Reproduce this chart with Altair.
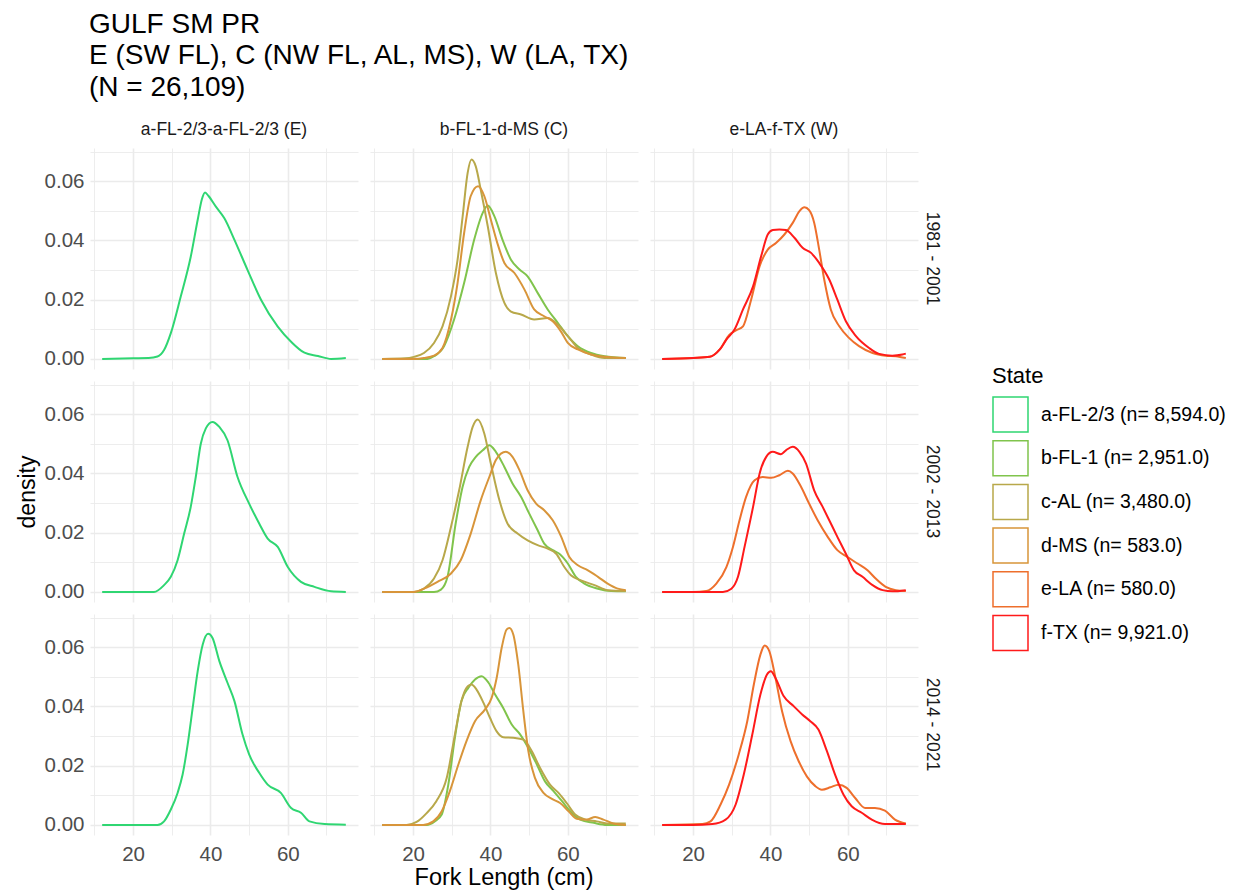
import altair as alt
import pandas as pd

PERIODS = ["1981 - 2001", "2002 - 2013", "2014 - 2021"]
REGIONS = ["a-FL-2/3-a-FL-2/3 (E)", "b-FL-1-d-MS (C)", "e-LA-f-TX (W)"]
STATES = ["a-FL-2/3 (n= 8,594.0)", "b-FL-1 (n= 2,951.0)", "c-AL (n= 3,480.0)",
          "d-MS (n= 583.0)", "e-LA (n= 580.0)", "f-TX (n= 9,921.0)"]
COLORS = ["#2fd672", "#80c44c", "#b8a84a", "#d8953a", "#ee6f2c", "#ff1a1a"]

# ---- 1981 - 2001 ----
A1_X = [12, 20, 24, 26.3, 28, 29.75, 32.3, 34.9, 36.7, 37.8, 38.6, 39.5, 41.4, 43.6, 46.2, 49.6, 53.1, 57.4, 60.85, 64.3, 67.8, 71.2, 75]
A1_Y = [0.0, 0.0002, 0.0003, 0.0008, 0.003, 0.0087, 0.021, 0.0345, 0.047, 0.054, 0.0562, 0.055, 0.0514, 0.0475, 0.0402, 0.030, 0.0199, 0.0109, 0.0058, 0.0021, 0.001, 0.0, 0.0003]
B1_X = [12, 20, 23.7, 25.4, 28, 30.6, 33.2, 35.8, 38, 39.3, 41, 43.1, 45.3, 47.5, 49.6, 52.2, 54.8, 57.4, 60, 62.6, 66, 69.5, 75]
B1_Y = [0, 0, 0, 0.0009, 0.0043, 0.0133, 0.0257, 0.0403, 0.0493, 0.0518, 0.0482, 0.0403, 0.0335, 0.0302, 0.0279, 0.0223, 0.0167, 0.0122, 0.0077, 0.0043, 0.002, 0.0009, 0.0003]
C1_X = [12, 18, 20.2, 22.8, 25.4, 27.6, 29.8, 31.5, 32.8, 34.1, 35.1, 36.2, 37.5, 39.3, 41.4, 43.6, 45.3, 47.9, 51.3, 54.8, 57.4, 60, 62.6, 66, 69.5, 75]
C1_Y = [0, 0.0002, 0.0007, 0.002, 0.0054, 0.011, 0.0212, 0.0335, 0.048, 0.0628, 0.0673, 0.065, 0.057, 0.0448, 0.029, 0.0189, 0.016, 0.015, 0.0133, 0.0138, 0.0116, 0.0077, 0.0037, 0.0015, 0.0003, 0.0003]
D1_X = [12, 20.2, 22.8, 25.4, 27.6, 29.8, 31.5, 33.2, 34.9, 36.8, 38.4, 40.1, 41.8, 43.6, 46.2, 48.8, 51.3, 53.9, 56.1, 58.2, 60, 62.6, 66, 69.5, 75]
D1_Y = [0, 0, 0.0003, 0.0011, 0.0037, 0.0133, 0.0257, 0.0426, 0.055, 0.0583, 0.055, 0.047, 0.039, 0.0324, 0.029, 0.0234, 0.0167, 0.0144, 0.0127, 0.0093, 0.0054, 0.0032, 0.0015, 0.0007, 0.0003]
E1_X = [12, 20, 24.3, 26.9, 29.4, 31.2, 32.9, 35, 37.2, 39.3, 41.5, 43.6, 45.8, 47.5, 48.8, 50, 51.3, 52.6, 53.9, 55.6, 57.8, 60.3, 62.9, 66.4, 69.8, 72.4, 75]
E1_Y = [0, 0.0003, 0.0007, 0.0032, 0.0082, 0.0097, 0.011, 0.02, 0.0313, 0.0369, 0.0392, 0.042, 0.046, 0.0499, 0.0512, 0.0502, 0.046, 0.0369, 0.0268, 0.0167, 0.011, 0.0071, 0.0043, 0.002, 0.0011, 0.0009, 0.0003]
F1_X = [12, 20, 24.3, 26.9, 28.6, 30.7, 32.9, 35.5, 37.6, 39.3, 40.6, 42.3, 44, 46.2, 48.3, 50.5, 52.6, 55.2, 57.3, 59.5, 62.1, 65.5, 68.1, 71.5, 74.1, 75]
F1_Y = [0, 0.0003, 0.0007, 0.0032, 0.0065, 0.0099, 0.0167, 0.0245, 0.0347, 0.042, 0.0435, 0.0437, 0.0435, 0.0409, 0.0375, 0.0358, 0.0324, 0.0268, 0.02, 0.0127, 0.0077, 0.0037, 0.0017, 0.0011, 0.0015, 0.0018]

# ---- 2002 - 2013 ----
A2_X = [12, 25.4, 28, 29.75, 31.5, 33.2, 34.9, 36.2, 37.5, 38.8, 40.5, 42.3, 44.4, 47, 50, 52.6, 54.8, 57.4, 60, 63.4, 66.9, 71.2, 75]
A2_Y = [0, 0, 0.0023, 0.0051, 0.0107, 0.0197, 0.0287, 0.0388, 0.05, 0.0552, 0.0574, 0.0557, 0.0512, 0.0388, 0.0298, 0.0231, 0.018, 0.0152, 0.0084, 0.0034, 0.0017, 0.0002, 0]
B2_X = [12, 25.4, 27.2, 28.9, 31, 32.8, 34.5, 36.2, 38, 39.7, 41.4, 43.6, 45.7, 47.9, 50, 52.2, 53.9, 56.1, 57.8, 60, 62.1, 64.3, 67.8, 71.2, 75]
B2_Y = [0, 0, 0.0008, 0.0051, 0.0231, 0.0355, 0.0422, 0.0456, 0.0478, 0.0495, 0.0473, 0.0422, 0.0366, 0.0321, 0.0265, 0.0208, 0.0163, 0.0141, 0.0129, 0.0096, 0.0051, 0.0028, 0.0011, 0.0003, 0.0002]
C2_X = [12, 20.2, 22.8, 25.4, 27.6, 29.8, 31.9, 34.1, 35.4, 36.7, 38.4, 40.1, 42.3, 44.4, 47, 49.6, 52.2, 54.8, 57, 59.1, 60.8, 63.4, 66.9, 70.3, 75]
C2_Y = [0, 0, 0.0011, 0.0045, 0.0107, 0.022, 0.0343, 0.049, 0.0557, 0.0582, 0.0535, 0.0433, 0.031, 0.0231, 0.0197, 0.0174, 0.0158, 0.0146, 0.0129, 0.0084, 0.0056, 0.0039, 0.0023, 0.0006, 0.0003]
D2_X = [12, 20.2, 22.8, 26.3, 29.8, 32.3, 34.9, 37.5, 39.7, 41.4, 42.7, 44, 45.7, 47.5, 49.6, 51.8, 53.9, 56.1, 58.3, 60.4, 62.6, 65.2, 67.8, 70.3, 72.9, 75]
D2_Y = [0, 0, 0.0011, 0.0034, 0.0062, 0.0107, 0.0197, 0.031, 0.0388, 0.0445, 0.0467, 0.0473, 0.0456, 0.0411, 0.0343, 0.0298, 0.0276, 0.0242, 0.0186, 0.0118, 0.009, 0.0073, 0.0051, 0.0028, 0.0011, 0.0006]
E2_X = [12, 20, 23.4, 26, 28.6, 30.3, 32, 33.7, 35.9, 38, 40.2, 42.3, 44.5, 45.75, 47.9, 50, 52.2, 54.8, 57.3, 59.9, 62.5, 65.1, 67.2, 69.8, 72.4, 75]
E2_Y = [0, 0, 0.0003, 0.0028, 0.0084, 0.0152, 0.0242, 0.0321, 0.0377, 0.0388, 0.0385, 0.0394, 0.0409, 0.04, 0.0355, 0.0298, 0.0242, 0.0186, 0.0141, 0.0118, 0.0096, 0.0073, 0.0045, 0.0017, 0.0006, 0.0003]
F2_X = [12, 27.7, 29.9, 31.6, 33.3, 35.5, 37.2, 38.9, 40.6, 42.7, 44, 45.75, 47.5, 49.2, 51.3, 53.5, 55.2, 57.3, 59.5, 61.6, 63.8, 66.4, 69, 71.5, 75]
F2_Y = [0, 0, 0.0011, 0.0051, 0.0152, 0.0287, 0.04, 0.0456, 0.0473, 0.0465, 0.0478, 0.049, 0.0473, 0.0433, 0.0343, 0.0287, 0.0242, 0.0186, 0.0129, 0.0073, 0.0051, 0.0023, 0.0006, 0.0002, 0.0006]

# ---- 2014 - 2021 ----
A3_X = [12, 26.3, 28, 29.75, 31.5, 32.8, 34.1, 35.4, 36.7, 38, 39.4, 40.5, 42.3, 44.4, 46.2, 48.3, 50, 52.6, 54.8, 58.2, 60.85, 63.4, 65.6, 69.5, 75]
A3_Y = [0, 0, 0.0012, 0.0052, 0.0108, 0.017, 0.0271, 0.0395, 0.0519, 0.0609, 0.0645, 0.0632, 0.0553, 0.048, 0.0418, 0.0305, 0.0238, 0.0176, 0.0136, 0.0108, 0.0057, 0.0041, 0.0012, 0.0003, 0.0001]
B3_X = [12, 23.5, 25.6, 27.4, 29.1, 30.8, 32.5, 34.3, 36, 37.7, 39.5, 41.2, 43.3, 45.5, 47.7, 49.8, 52, 54.1, 56.3, 58.5, 60.6, 63.2, 66.7, 70.1, 75]
B3_Y = [0, 0, 0.0012, 0.0035, 0.0136, 0.0294, 0.0418, 0.0463, 0.0491, 0.0502, 0.048, 0.044, 0.0395, 0.0339, 0.0305, 0.026, 0.0204, 0.0147, 0.0114, 0.008, 0.0046, 0.0018, 0.0007, 0, 0]
C3_X = [12, 18.3, 20.9, 23.5, 26, 28.7, 30.8, 32.5, 33.8, 35.1, 36.4, 38.2, 39.9, 41.6, 43.3, 45.9, 48.5, 50.7, 52.8, 55.4, 57.6, 59.7, 61.9, 64.5, 67.5, 70.1, 75]
C3_Y = [0, 0, 0.001, 0.004, 0.008, 0.0159, 0.0305, 0.0418, 0.0463, 0.0474, 0.0457, 0.0412, 0.0361, 0.0316, 0.0296, 0.0294, 0.0288, 0.0249, 0.0193, 0.0136, 0.0108, 0.0074, 0.0035, 0.0018, 0.0012, 0.0005, 0.0005]
D3_X = [12, 22.6, 25.2, 27.4, 29.5, 31.7, 33.8, 36, 38.6, 40.3, 41.6, 42.9, 44.2, 44.9, 45.9, 47.2, 48.5, 49.8, 51.5, 53.7, 55.9, 58, 60.2, 62.3, 64.9, 67.1, 69.2, 71.8, 75]
D3_Y = [0, 0, 0.0012, 0.0046, 0.0114, 0.0204, 0.0283, 0.035, 0.039, 0.0429, 0.0496, 0.0598, 0.066, 0.0665, 0.0643, 0.054, 0.0384, 0.0249, 0.0159, 0.0108, 0.0088, 0.0074, 0.0046, 0.0021, 0.0018, 0.0027, 0.0018, 0.0005, 0]
E3_X = [12, 22.4, 24.5, 27.1, 29.3, 31.8, 34, 35.7, 37.4, 38.5, 39.7, 41.3, 43, 45.2, 47.3, 49.4, 51.6, 53.3, 55.5, 57.6, 59.7, 61.9, 64.5, 67, 69.6, 72.2, 75]
E3_Y = [0, 0.0003, 0.0012, 0.0069, 0.0136, 0.0238, 0.035, 0.0474, 0.0575, 0.0606, 0.0587, 0.0496, 0.0384, 0.0283, 0.0215, 0.0164, 0.0131, 0.0119, 0.0127, 0.0136, 0.0125, 0.0091, 0.0057, 0.0057, 0.0048, 0.0018, 0.0005]
F3_X = [12, 19.8, 25, 28.4, 31, 33.1, 35.3, 37.4, 39.1, 40.1, 41.3, 43.4, 46, 48.2, 50.3, 52.4, 54.6, 56.7, 58.9, 61, 63.6, 66.2, 69.6, 75]
F3_Y = [0, 0, 0.0003, 0.0018, 0.0069, 0.017, 0.0305, 0.044, 0.0508, 0.0519, 0.0496, 0.0435, 0.0401, 0.0373, 0.035, 0.0322, 0.0249, 0.017, 0.0102, 0.0063, 0.0041, 0.0018, 0.0003, 0.0003]

CURVES = [
    (0, 0, 0, A1_X, A1_Y), (0, 1, 1, B1_X, B1_Y), (0, 1, 2, C1_X, C1_Y), (0, 1, 3, D1_X, D1_Y),
    (0, 2, 4, E1_X, E1_Y), (0, 2, 5, F1_X, F1_Y),
    (1, 0, 0, A2_X, A2_Y), (1, 1, 1, B2_X, B2_Y), (1, 1, 2, C2_X, C2_Y), (1, 1, 3, D2_X, D2_Y),
    (1, 2, 4, E2_X, E2_Y), (1, 2, 5, F2_X, F2_Y),
    (2, 0, 0, A3_X, A3_Y), (2, 1, 1, B3_X, B3_Y), (2, 1, 2, C3_X, C3_Y), (2, 1, 3, D3_X, D3_Y),
    (2, 2, 4, E3_X, E3_Y), (2, 2, 5, F3_X, F3_Y),
]

rows = []
for p, r, s, xs, ys in CURVES:
    for i, (xv, yv) in enumerate(zip(xs, ys)):
        rows.append({"period": PERIODS[p], "region": REGIONS[r], "state": STATES[s],
                     "x": xv, "y": yv, "order": i})
df = pd.DataFrame(rows)

FONT = "Liberation Sans"

grid_w = {"condition": {"test": "datum.value % 20 === 0", "value": 1.6}, "value": 0.9}
grid_wy = {"condition": {"test": "round(datum.value * 100) % 2 === 0", "value": 1.6}, "value": 0.9}

base = alt.Chart(df).mark_line(interpolate="monotone", strokeWidth=2).encode(
    x=alt.X("x:Q", scale=alt.Scale(domain=[8.85, 78.15], nice=False, zero=False),
            axis=alt.Axis(title=None, values=[10, 20, 30, 40, 50, 60, 70],
                          labelExpr="datum.value % 20 === 0 ? datum.label : ''",
                          gridWidth=grid_w, labelPadding=9)),
    y=alt.Y("y:Q", scale=alt.Scale(domain=[-0.0034, 0.0712], nice=False, zero=False),
            axis=alt.Axis(title=None, values=[0, 0.01, 0.02, 0.03, 0.04, 0.05, 0.06, 0.07],
                          labelExpr="round(datum.value * 100) % 2 === 0 ? format(datum.value, '.2f') : ''",
                          gridWidth=grid_wy, labelPadding=6)),
    color=alt.Color("state:N", scale=alt.Scale(domain=STATES, range=COLORS),
                    legend=alt.Legend(title="State", symbolType="square", symbolSize=1225,
                                      symbolStrokeWidth=1.5, symbolFillColor="white",
                                      rowPadding=2.7, labelFontSize=19.5, titleFontSize=22,
                                      titleFontWeight="normal", labelFont=FONT, titleFont=FONT,
                                      titlePadding=8, labelOffset=12, labelLimit=400,
                                      orient="none", legendX=902, legendY=218)),
    detail="state:N",
    order="order:Q",
).properties(width=268, height=221)

chart = base.facet(
    row=alt.Row("period:N", sort=PERIODS,
                 header=alt.Header(title="density", titleOrient="left", labelOrient="right",
                                   labelAngle=90, labelFontSize=17.5, labelFont=FONT,
                                   labelColor="#1A1A1A", titleFontSize=23, titleFont=FONT,
                                   titleFontWeight="normal", titleColor="black",
                                   labelPadding=5, titlePadding=-6)),
    column=alt.Column("region:N", sort=REGIONS,
                      header=alt.Header(title="Fork Length (cm)", titleOrient="bottom",
                                        labelOrient="top", labelFontSize=17.5, labelFont=FONT,
                                        labelColor="#1A1A1A", titleFontSize=23.5, titleFont=FONT,
                                        titleFontWeight="normal", titleColor="black",
                                        titlePadding=-9)),
    spacing={"row": 12, "column": 12},
).properties(
    title=alt.TitleParams(["GULF SM PR", "E (SW FL), C (NW FL, AL, MS), W (LA, TX)", "(N = 26,109)"],
                          anchor="start", fontSize=28, font=FONT, fontWeight="normal",
                          lineHeight=31.5, color="black", offset=19, dx=72),
    background="white",
    padding={"left": 16, "top": 10, "right": 5, "bottom": 5},
).configure_view(stroke=None).configure_axis(
    domain=False, ticks=False, gridColor="#EBEBEB", labelColor="#4D4D4D",
    labelFont=FONT, labelFontSize=20.5,
)

chart.save("out.html", embed_options={"renderer": "svg", "actions": False})
